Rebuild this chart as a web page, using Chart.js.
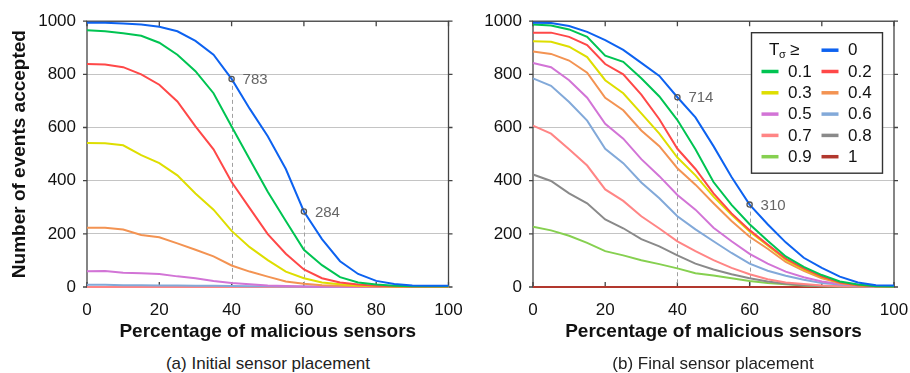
<!DOCTYPE html>
<html>
<head>
    <title>Events accepted vs malicious sensors</title>
    <script src="https://cdn.jsdelivr.net/npm/chart.js@4.4.0/dist/chart.umd.min.js"></script>
    <style>
        body { margin: 0; background: #fff; }
        #wrap { position: relative; width: 910px; height: 373px; overflow: hidden; }
        canvas { position: absolute; top: 0; }
        .cap {
            position: absolute; top: 354px; width: 360px; text-align: center;
            font-family: "Liberation Sans", Arial, sans-serif; font-size: 17px; color: #222;
        }
    </style>
</head>
<body>
<div id="wrap">
    <canvas id="left" width="470" height="345" style="left:0"></canvas>
    <canvas id="right" width="455" height="345" style="left:455px"></canvas>
    <div class="cap" style="left:88px">(a) Initial sensor placement</div>
    <div class="cap" style="left:533px">(b) Final sensor placement</div>
</div>
<script>
    var pct = [0, 5, 10, 15, 20, 25, 30, 35, 40, 45, 50, 55, 60, 65, 70, 75, 80, 85, 90, 95, 100];
    var thresholds = ['0', '0.1', '0.2', '0.3', '0.4', '0.5', '0.6', '0.7', '0.8', '0.9', '1'];
    var colors = ['#0d62f0', '#00c452', '#ff4848', '#dede00', '#f39352', '#d274d6', '#82a9d9', '#ff8585', '#8a8a8a', '#86d050', '#b2382e'];
    var yTicks = [0, 200, 400, 600, 800, 1000];
    var xTicks = [0, 20, 40, 60, 80, 100];

    // (a) initial placement, one array per threshold
    var initial0 = [994, 994, 991, 988, 979, 962, 926, 874, 783, 671, 567, 444, 284, 180, 97, 49, 23, 11, 6, 5, 5];
    var initial1 = [966, 962, 955, 945, 919, 874, 812, 729, 604, 481, 358, 248, 140, 82, 37, 17, 9, 5, 3, 3, 3];
    var initial2 = [839, 837, 827, 800, 761, 698, 604, 518, 395, 297, 199, 125, 66, 33, 17, 9, 5, 3, 2, 2, 2];
    var initial3 = [542, 541, 533, 496, 466, 420, 352, 291, 211, 150, 101, 58, 33, 17, 10, 6, 4, 2, 2, 1, 1];
    var initial4 = [223, 223, 216, 196, 187, 164, 140, 115, 81, 58, 39, 21, 12, 7, 5, 3, 2, 1, 1, 1, 1];
    var initial5 = [59, 60, 54, 52, 49, 40, 33, 23, 15, 10, 6, 4, 2, 1, 1, 0, 0, 0, 0, 0, 0];
    var initial6 = [8, 8, 7, 7, 6, 6, 5, 5, 4, 3, 3, 2, 2, 1, 1, 1, 0, 0, 0, 0, 0];
    var initial7 = [0, 0, 0, 0, 0, 0, 0, 0, 0, 0, 0, 0, 0, 0, 0, 0, 0, 0, 0, 0, 0];
    var initial8 = [0, 0, 0, 0, 0, 0, 0, 0, 0, 0, 0, 0, 0, 0, 0, 0, 0, 0, 0, 0, 0];
    var initial9 = [0, 0, 0, 0, 0, 0, 0, 0, 0, 0, 0, 0, 0, 0, 0, 0, 0, 0, 0, 0, 0];
    var initial10 = [0, 0, 0, 0, 0, 0, 0, 0, 0, 0, 0, 0, 0, 0, 0, 0, 0, 0, 0, 0, 0];

    // (b) final placement
    var final0 = [994, 993, 982, 960, 929, 892, 843, 794, 714, 638, 530, 414, 310, 236, 168, 110, 72, 39, 17, 7, 6];
    var final1 = [988, 984, 969, 941, 870, 847, 785, 717, 628, 518, 395, 309, 236, 174, 115, 76, 45, 21, 9, 3, 2];
    var final2 = [957, 957, 941, 910, 839, 800, 724, 631, 520, 444, 352, 277, 214, 160, 107, 70, 39, 17, 7, 3, 2];
    var final3 = [925, 923, 904, 865, 778, 729, 653, 577, 487, 420, 340, 272, 209, 156, 103, 66, 37, 16, 7, 3, 1];
    var final4 = [886, 877, 852, 806, 712, 665, 589, 530, 447, 385, 315, 248, 189, 144, 94, 61, 33, 15, 6, 2, 1];
    var final5 = [843, 827, 778, 712, 614, 558, 481, 417, 346, 291, 223, 172, 125, 88, 58, 37, 21, 11, 5, 2, 1];
    var final6 = [785, 757, 696, 626, 520, 466, 393, 334, 266, 217, 172, 128, 88, 61, 42, 27, 15, 9, 5, 2, 1];
    var final7 = [607, 577, 518, 457, 367, 324, 266, 220, 172, 135, 101, 72, 48, 29, 17, 11, 6, 3, 2, 1, 0];
    var final8 = [423, 399, 352, 315, 254, 221, 180, 153, 119, 88, 66, 48, 33, 21, 12, 7, 4, 2, 1, 0, 0];
    var final9 = [227, 213, 193, 166, 135, 119, 101, 86, 70, 52, 43, 33, 23, 15, 10, 6, 3, 2, 1, 0, 0];
    var final10 = [0, 0, 0, 0, 0, 0, 0, 0, 0, 0, 0, 0, 0, 0, 0, 0, 0, 0, 0, 0, 0];

    // highlighted points on the T >= 0 curve
    var marksX = [40, 60];
    var initialMarks = [783, 284];
    var finalMarks = [714, 310];

    var initialSeries = [initial0, initial1, initial2, initial3, initial4, initial5, initial6, initial7, initial8, initial9, initial10];
    var finalSeries = [final0, final1, final2, final3, final4, final5, final6, final7, final8, final9, final10];

    var FONT = '"Liberation Sans", Arial, sans-serif';

    function makeSets(series) {
        var sets = [];
        for (var i = 0; i < series.length; i++) {
            var pts = [];
            for (var j = 0; j < pct.length; j++) pts.push({ x: pct[j], y: series[i][j] });
            sets.push({
                label: thresholds[i],
                data: pts,
                borderColor: colors[i],
                borderWidth: 2,
                pointRadius: 0,
                fill: false,
                tension: 0,
                clip: 4
            });
        }
        return sets;
    }

    var framePlugin = {
        id: 'frame',
        beforeDatasetsDraw: function(chart) {
            var ctx = chart.ctx, a = chart.chartArea;
            var xs = chart.scales.x, ys = chart.scales.y;
            ctx.save();
            ctx.strokeStyle = '#444';
            ctx.lineWidth = 1.3;
            ctx.strokeRect(a.left, a.top, a.right - a.left, a.bottom - a.top);
            ctx.beginPath();
            xTicks.forEach(function(v) {
                var px = xs.getPixelForValue(v);
                ctx.moveTo(px, a.bottom); ctx.lineTo(px, a.bottom - 5);
                ctx.moveTo(px, a.top); ctx.lineTo(px, a.top + 5);
            });
            yTicks.forEach(function(v) {
                var py = ys.getPixelForValue(v);
                ctx.moveTo(a.left - 4, py); ctx.lineTo(a.left, py);
                ctx.moveTo(a.right, py); ctx.lineTo(a.right + 4, py);
            });
            ctx.stroke();
            ctx.restore();
        }
    };

    var marksPlugin = {
        id: 'marks',
        beforeDatasetsDraw: function(chart, args, opts) {
            var ctx = chart.ctx, xs = chart.scales.x, ys = chart.scales.y;
            ctx.save();
            ctx.strokeStyle = '#a0a0a0';
            ctx.lineWidth = 1;
            ctx.setLineDash([4, 3]);
            for (var i = 0; i < opts.xs.length; i++) {
                var px = Math.round(xs.getPixelForValue(opts.xs[i])) + 0.5;
                ctx.beginPath();
                ctx.moveTo(px, ys.getPixelForValue(opts.ys[i]));
                ctx.lineTo(px, ys.getPixelForValue(0));
                ctx.stroke();
            }
            ctx.restore();
        },
        afterDatasetsDraw: function(chart, args, opts) {
            var ctx = chart.ctx, xs = chart.scales.x, ys = chart.scales.y;
            ctx.save();
            for (var i = 0; i < opts.xs.length; i++) {
                var px = xs.getPixelForValue(opts.xs[i]);
                var py = ys.getPixelForValue(opts.ys[i]);
                ctx.beginPath();
                ctx.arc(px, py, 2.6, 0, Math.PI * 2);
                ctx.strokeStyle = '#555';
                ctx.lineWidth = 1.3;
                ctx.stroke();
                ctx.fillStyle = '#666';
                ctx.font = '15px ' + FONT;
                ctx.textAlign = 'left';
                ctx.textBaseline = 'middle';
                ctx.fillText(String(opts.ys[i]), px + 11, py + 1);
            }
            ctx.restore();
        }
    };

    var legendPlugin = {
        id: 'tlegend',
        afterDraw: function(chart, args, opts) {
            if (!opts.show) return;
            var ctx = chart.ctx, a = chart.chartArea;
            var bx = a.right - 142.5, by = a.top + 11.5, bw = 131, bh = 140.5;
            ctx.save();
            ctx.fillStyle = '#fff';
            ctx.fillRect(bx, by, bw, bh);
            ctx.strokeStyle = '#333';
            ctx.lineWidth = 1.4;
            ctx.strokeRect(bx, by, bw, bh);
            ctx.textBaseline = 'middle';
            ctx.textAlign = 'left';
            ctx.fillStyle = '#111';
            var rowH = 21.3, y0 = by + 17.5;
            // title cell
            ctx.font = '17px ' + FONT;
            ctx.fillText('T', bx + 17.5, y0);
            ctx.font = '11px ' + FONT;
            ctx.fillText('σ', bx + 27.5, y0 + 5);
            ctx.font = '17px ' + FONT;
            ctx.fillText('≥', bx + 38.5, y0);
            for (var i = 0; i < thresholds.length; i++) {
                var slot = i + 1;
                var row = Math.floor(slot / 2), col = slot % 2;
                var yy = y0 + row * rowH;
                var lx = col === 0 ? bx + 10 : bx + 70;
                ctx.strokeStyle = colors[i];
                ctx.lineWidth = 3.5;
                ctx.beginPath();
                ctx.moveTo(lx, yy);
                ctx.lineTo(lx + 17, yy);
                ctx.stroke();
                ctx.fillStyle = '#111';
                ctx.fillText(thresholds[i], lx + 26.5, yy + 0.5);
            }
            ctx.restore();
        }
    };

    function makeChart(id, series, marks, yWidth, padRight, withTitle, withLegend) {
        var ctx = document.getElementById(id).getContext('2d');
        return new Chart(ctx, {
            type: 'line',
            data: { datasets: makeSets(series) },
            options: {
                responsive: false,
                animation: false,
                devicePixelRatio: 1,
                layout: { padding: { left: 0, right: padRight, top: 16, bottom: 0 } },
                plugins: {
                    legend: { display: false },
                    tooltip: { enabled: false },
                    marks: { xs: marksX, ys: marks },
                    tlegend: { show: withLegend }
                },
                scales: {
                    x: {
                        type: 'linear', min: 0, max: 100,
                        afterBuildTicks: function(s) { s.ticks = xTicks.map(function(v) { return { value: v }; }); },
                        afterFit: function(s) { s.height = 58; s.paddingLeft = 0; s.paddingRight = 0; },
                        grid: { display: false, drawTicks: false },
                        border: { display: false },
                        ticks: {
                            padding: 13, maxRotation: 0, color: '#111', font: { family: FONT, size: 17 },
                            callback: function(v) { return String(v); }
                        },
                        title: {
                            display: true, text: 'Percentage of malicious sensors', color: '#111',
                            padding: { top: 0, bottom: 1.5 },
                            font: { family: FONT, size: 19, weight: 'bold' }
                        }
                    },
                    y: {
                        min: 0, max: 1000,
                        afterBuildTicks: function(s) { s.ticks = yTicks.map(function(v) { return { value: v }; }); },
                        afterFit: function(s) { s.width = yWidth; },
                        grid: { color: '#c4c4c4', lineWidth: 1, drawTicks: false },
                        border: { display: false },
                        ticks: {
                            padding: 11, color: '#111', font: { family: FONT, size: 17 },
                            callback: function(v) { return String(v); }
                        },
                        title: {
                            display: withTitle, text: 'Number of events accepted', color: '#111',
                            padding: { top: 8, bottom: 0 },
                            font: { family: FONT, size: 19, weight: 'bold' }
                        }
                    }
                }
            },
            plugins: [framePlugin, marksPlugin, legendPlugin]
        });
    }

    makeChart('left', initialSeries, initialMarks, 87, 21.5, true, false);
    makeChart('right', finalSeries, finalMarks, 78, 16, false, true);
</script>
</body>
</html>
